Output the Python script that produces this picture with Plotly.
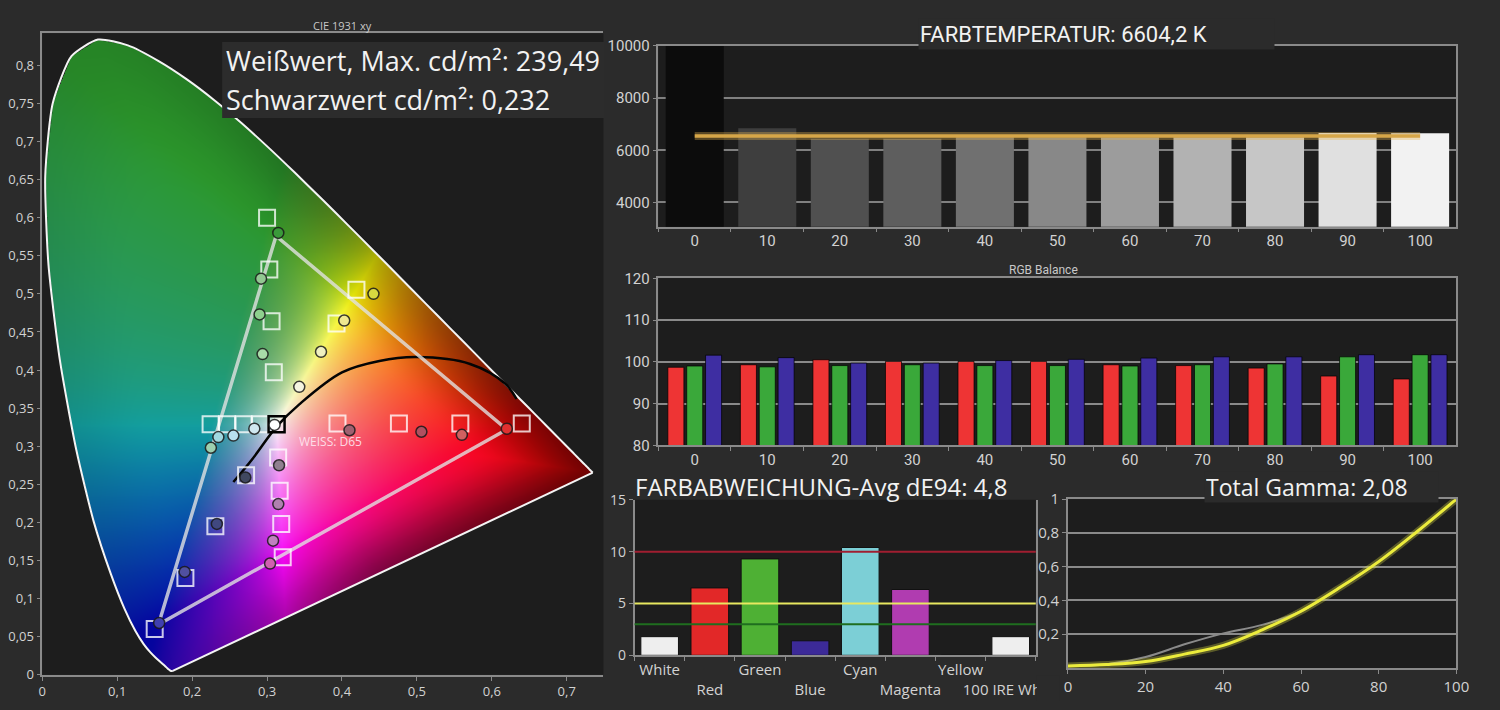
import numpy as np
import plotly.graph_objects as go
import zlib, struct, base64

# ---------------- data ----------------
# CIE 1931 2° spectral locus (380..700 nm)
locus_x = [0.1741, 0.1740, 0.1738, 0.1736, 0.1733, 0.1730, 0.1726, 0.1721, 0.1714, 0.1703,
           0.1689, 0.1669, 0.1644, 0.1611, 0.1566, 0.1510, 0.1440, 0.1355, 0.1241, 0.1096,
           0.0913, 0.0687, 0.0454, 0.0235, 0.0082, 0.0039, 0.0139, 0.0389, 0.0743, 0.1142,
           0.1547, 0.1929, 0.2296, 0.2658, 0.3016, 0.3373, 0.3731, 0.4087, 0.4441, 0.4788,
           0.5125, 0.5448, 0.5752, 0.6029, 0.6270, 0.6482, 0.6658, 0.6801, 0.6915, 0.7006,
           0.7079, 0.7140, 0.7190, 0.7230, 0.7260, 0.7283, 0.7300, 0.7311, 0.7320, 0.7327,
           0.7334, 0.7347]
locus_y = [0.0050, 0.0050, 0.0049, 0.0049, 0.0048, 0.0048, 0.0048, 0.0048, 0.0051, 0.0058,
           0.0069, 0.0086, 0.0109, 0.0138, 0.0177, 0.0227, 0.0297, 0.0399, 0.0578, 0.0868,
           0.1327, 0.2007, 0.2950, 0.4127, 0.5384, 0.6548, 0.7502, 0.8120, 0.8338, 0.8262,
           0.8059, 0.7816, 0.7543, 0.7243, 0.6923, 0.6589, 0.6245, 0.5896, 0.5547, 0.5202,
           0.4866, 0.4544, 0.4242, 0.3965, 0.3725, 0.3514, 0.3340, 0.3197, 0.3083, 0.2993,
           0.2920, 0.2859, 0.2809, 0.2770, 0.2740, 0.2717, 0.2700, 0.2689, 0.2680, 0.2673,
           0.2666, 0.2653]

planck_x = [0.255, 0.281, 0.313, 0.343, 0.400, 0.450, 0.500, 0.571, 0.618, 0.633]
planck_y = [0.253, 0.284, 0.326, 0.355, 0.397, 0.412, 0.417, 0.408, 0.382, 0.362]

gamut_x = [0.312, 0.620, 0.155, 0.312]
gamut_y = [0.576, 0.322, 0.066, 0.576]

target_x = [0.640, 0.558, 0.476, 0.394,
            0.2246, 0.2466, 0.2686, 0.2907,
            0.300, 0.303, 0.306, 0.309,
            0.150, 0.191, 0.231, 0.272,
            0.3209, 0.3189, 0.3168, 0.3148,
            0.4193, 0.3927]
target_y = [0.330, 0.330, 0.330, 0.330,
            0.329, 0.329, 0.329, 0.329,
            0.600, 0.532, 0.464, 0.397,
            0.060, 0.127, 0.195, 0.262,
            0.1542, 0.198, 0.2417, 0.2853,
            0.5053, 0.4612]

white_target_x = [0.3127]
white_target_y = [0.329]

meas_x = [0.315, 0.292, 0.290, 0.294,
          0.442, 0.403, 0.372, 0.343,
          0.225, 0.235, 0.255, 0.283,
          0.620, 0.560, 0.506, 0.410,
          0.156, 0.190, 0.233, 0.271,
          0.304, 0.308, 0.315, 0.316,
          0.310]
meas_y = [0.580, 0.520, 0.473, 0.421,
          0.500, 0.465, 0.424, 0.378,
          0.298, 0.312, 0.314, 0.323,
          0.323, 0.315, 0.319, 0.321,
          0.068, 0.135, 0.198, 0.259,
          0.146, 0.176, 0.224, 0.275,
          0.328]
meas_fill = ["#3a9a3a", "#92c892", "#8ed08e", "#a8dca8",
             "#d8d840", "#f0e890", "#f0f0c0", "#f4f4e0",
             "#9cd0b0", "#a0d8e0", "#b8e0ee", "#d0e8f0",
             "#e03030", "#d06060", "#b05060", "#a06070",
             "#4040b0", "#5050a0", "#404880", "#404860",
             "#d060b0", "#c080c0", "#b080b0", "#908090",
             "#ffffff"]

temp_cats = ["0", "10", "20", "30", "40", "50", "60", "70", "80", "90", "100"]
temp_values = [10000, 6850, 6440, 6440, 6500, 6500, 6500, 6500, 6500, 6660, 6650]
temp_target = [6550, 6550]
temp_ticks = [4000, 6000, 8000, 10000]

rgb_cats = temp_cats
red_vals = [98.7, 99.3, 100.5, 100.1, 100.1, 100.1, 99.3, 99.1, 98.5, 96.6, 95.9]
green_vals = [99.0, 98.8, 99.1, 99.3, 99.1, 99.1, 99.0, 99.3, 99.5, 101.2, 101.7]
blue_vals = [101.6, 101.0, 99.7, 99.7, 100.3, 100.6, 100.9, 101.2, 101.2, 101.7, 101.7]

de_cats = ["White", "Red", "Green", "Blue", "Cyan", "Magenta", "Yellow", "100 IRE White"]
de_vals = [1.8, 6.5, 9.3, 1.4, 10.4, 6.35, 0.0, 1.8]
de_limits = [10, 5, 3]

gamma_x = [0, 10, 20, 30, 40, 50, 60, 70, 80, 90, 100]
gamma_yellow = [0.012, 0.020, 0.038, 0.082, 0.134, 0.226, 0.336, 0.476, 0.630, 0.810, 1.0]
gamma_gray = [0.012, 0.022, 0.065, 0.140, 0.205, 0.255, 0.336, 0.476, 0.630, 0.810, 1.0]

cie_xticks = [0, 0.1, 0.2, 0.3, 0.4, 0.5, 0.6, 0.7]
cie_xtext = ["0", "0,1", "0,2", "0,3", "0,4", "0,5", "0,6", "0,7"]
cie_yticks = [0, 0.05, 0.1, 0.15, 0.2, 0.25, 0.3, 0.35, 0.4, 0.45, 0.5, 0.55, 0.6, 0.65, 0.7, 0.75, 0.8]
cie_ytext = ["0", "0,05", "0,1", "0,15", "0,2", "0,25", "0,3", "0,35", "0,4", "0,45", "0,5",
             "0,55", "0,6", "0,65", "0,7", "0,75", "0,8"]
gamma_yticks = [0.2, 0.4, 0.6, 0.8, 1.0]
gamma_ytext = ["0,2", "0,4", "0,6", "0,8", "1"]

# ---------------- layout constants ----------------
W, H = 1500, 710
PAGE = "#2b2b2b"
PLOT = "#1d1d1d"
LINE = "#8a8a8a"
TXT = "#d2d2d2"
FONT = "Open Sans, Noto Sans, sans-serif"
NARROW = "Roboto, Open Sans, sans-serif"

def fx(p):
    return p / W

def fy(p):
    return 1 - p / H

XMAX, YMAX = 0.749, 0.842
WX, WY = 0.3127, 0.3290

# ---------------- chromaticity background image ----------------
def point_in_poly(px, py, vx, vy):
    inside = np.zeros(px.shape, dtype=bool)
    n = len(vx)
    j = n - 1
    for i in range(n):
        xi, yi, xj, yj = vx[i], vy[i], vx[j], vy[j]
        if yi != yj:
            cond = ((yi > py) != (yj > py)) & (px < (xj - xi) * (py - yi) / (yj - yi) + xi)
            inside ^= cond
        j = i
    return inside

# boundary distance from the white point, per direction
ang_tab = np.radians(np.arange(0, 360.25, 0.25))
dxa, dya = np.cos(ang_tab)[:, None], np.sin(ang_tab)[:, None]
lx, ly = np.array(locus_x), np.array(locus_y)
p2x, p2y = np.roll(lx, -1), np.roll(ly, -1)
ex, ey = (p2x - lx)[None, :], (p2y - ly)[None, :]
wx_, wy_ = (lx - WX)[None, :], (ly - WY)[None, :]
den = dxa * ey - dya * ex
den = np.where(np.abs(den) < 1e-12, 1e-12, den)
tt = (wx_ * ey - wy_ * ex) / den
uu = (wx_ * dya - wy_ * dxa) / den
ok = (uu >= 0) & (uu <= 1) & (tt > 0)
rad_tab = np.where(ok, tt, np.inf).min(axis=1)

Wi, Hi = 572, 660
xs = (np.arange(Wi) + 0.5) / Wi * XMAX
ys = YMAX - (np.arange(Hi) + 0.5) / Hi * YMAX
XX, YY = np.meshgrid(xs, ys)
ins = point_in_poly(XX, YY, locus_x, locus_y)
yy = np.maximum(YY, 1e-3)
Xc = XX / yy
Zc = (1 - XX - yy) / yy
M = np.array([[3.2406, -1.5372, -0.4986], [-0.9689, 1.8758, 0.0415], [0.0557, -0.2040, 1.0570]])
lin = np.stack([M[k, 0] * Xc + M[k, 1] + M[k, 2] * Zc for k in range(3)], axis=-1)
lin = np.clip(lin, 0, None)
lin = lin / np.maximum(lin.max(axis=-1, keepdims=True), 1e-9)
lin = np.power(lin, 1.7)
R_, G_, B_ = lin[..., 0], lin[..., 1], lin[..., 2]
gdom = np.clip(G_ - np.maximum(R_, B_), 0, 1)
cdom = np.clip(np.minimum(G_, B_) - R_, 0, 1)
bdom = np.clip(B_ - np.maximum(R_, G_), 0, 1)
fdom = 1 - 0.55 * gdom - 0.42 * cdom - 0.3 * bdom
lift = 0.16 * gdom + 0.06 * cdom
c = np.where(lin <= 0.0031308, 12.92 * lin, 1.055 * np.power(lin, 1 / 2.4) - 0.055)
c = c * 0.94 + 0.03
ddx, ddy = XX - WX, YY - WY
theta = np.mod(np.degrees(np.arctan2(ddy, ddx)), 360)
sat = np.hypot(ddx, ddy) / np.interp(np.radians(theta), ang_tab, rad_tab)
k_ang = [0, 8, 30, 49, 78, 100, 130, 250, 267, 305, 336, 351, 360]
k_val = [0.55, 0.55, 0.45, 0.35, 0.3, 0.2, 0.1, 0.1, 0.3, 0.55, 0.6, 0.62, 0.55]
kk = np.interp(theta, k_ang, k_val)
tq = np.clip((sat - 0.6) / 0.5, 0, 1)
fedge = 1 - kk * tq * tq * (3 - 2 * tq)
val = c * (fdom * fedge)[..., None] + (lift * fedge)[..., None]
rgb = np.clip(val * 255, 0, 255).astype(np.uint8)
alpha = (ins * 255).astype(np.uint8)[..., None]
rgba = np.concatenate([rgb, alpha], axis=-1)

def png_uri(arr):
    h, w, _ = arr.shape
    raw = b"".join(b"\x00" + arr[i].tobytes() for i in range(h))
    def chunk(tag, data):
        return struct.pack(">I", len(data)) + tag + data + struct.pack(">I", zlib.crc32(tag + data) & 0xffffffff)
    png = (b"\x89PNG\r\n\x1a\n" + chunk(b"IHDR", struct.pack(">IIBBBBB", w, h, 8, 6, 0, 0, 0))
           + chunk(b"IDAT", zlib.compress(raw, 9)) + chunk(b"IEND", b""))
    return "data:image/png;base64," + base64.b64encode(png).decode()

fig = go.Figure()

# ---------------- CIE panel ----------------
fig.add_trace(go.Scatter(x=locus_x, y=locus_y, mode="lines",
                         line=dict(color="#f4f4f4", width=2, shape="spline", smoothing=0.6),
                         xaxis="x", yaxis="y", hoverinfo="skip"))
fig.add_trace(go.Scatter(x=[locus_x[-1], locus_x[0]], y=[locus_y[-1], locus_y[0]], mode="lines",
                         line=dict(color="#f4f4f4", width=2), xaxis="x", yaxis="y", hoverinfo="skip"))
fig.add_trace(go.Scatter(x=planck_x, y=planck_y, mode="lines", line=dict(color="#050505", width=2.5, shape="spline"),
                         xaxis="x", yaxis="y", hoverinfo="skip"))
fig.add_trace(go.Scatter(x=gamut_x, y=gamut_y, mode="lines", line=dict(color="rgba(225,225,225,0.8)", width=3.5),
                         xaxis="x", yaxis="y", hoverinfo="skip"))
fig.add_trace(go.Scatter(x=target_x, y=target_y, mode="markers",
                         marker=dict(symbol="square-open", size=16, color="rgba(255,255,255,0.78)",
                                     line=dict(width=2, color="rgba(255,255,255,0.78)")),
                         xaxis="x", yaxis="y", hoverinfo="skip"))
fig.add_trace(go.Scatter(x=white_target_x, y=white_target_y, mode="markers",
                         marker=dict(symbol="square-open", size=16, color="#000000",
                                     line=dict(width=2.5, color="#000000")),
                         xaxis="x", yaxis="y", hoverinfo="skip"))
fig.add_trace(go.Scatter(x=meas_x, y=meas_y, mode="markers",
                         marker=dict(symbol="circle", size=11, color=meas_fill,
                                     line=dict(width=1.5, color="rgba(25,25,25,0.85)")),
                         xaxis="x", yaxis="y", hoverinfo="skip"))

# ---------------- colour temperature panel ----------------
temp_colors = ["#0c0c0c", "#3e3e3e", "#505050", "#5e5e5e", "#707070", "#888888",
               "#9c9c9c", "#b2b2b2", "#c6c6c6", "#e0e0e0", "#f2f2f2"]
fig.add_trace(go.Bar(x=temp_cats, y=temp_values, width=0.8, marker=dict(color=temp_colors, line=dict(width=0)),
                     xaxis="x2", yaxis="y2", hoverinfo="skip"))
fig.add_trace(go.Scatter(x=[temp_cats[0], temp_cats[-1]], y=temp_target, mode="lines",
                         line=dict(color="rgba(230,180,80,0.35)", width=8), xaxis="x2", yaxis="y2", hoverinfo="skip"))
fig.add_trace(go.Scatter(x=[temp_cats[0], temp_cats[-1]], y=temp_target, mode="lines",
                         line=dict(color="#d6a648", width=3.5), xaxis="x2", yaxis="y2", hoverinfo="skip"))

# ---------------- RGB balance panel ----------------
for vals, col in ((red_vals, "#ee3434"), (green_vals, "#3aa83a"), (blue_vals, "#3e2ea2")):
    fig.add_trace(go.Bar(x=rgb_cats, y=vals, marker=dict(color=col, line=dict(width=1, color="rgba(0,0,0,0.7)")),
                         xaxis="x3", yaxis="y3", hoverinfo="skip"))

# ---------------- colour deviation panel ----------------
de_colors = ["#eeeeee", "#e22828", "#4eb034", "#3c2a98", "#7ccfd6", "#b03cb0", "#e0e040", "#eeeeee"]
fig.add_trace(go.Bar(x=de_cats, y=de_vals, width=0.75, marker=dict(color=de_colors, line=dict(width=1, color="#111111")),
                     xaxis="x4", yaxis="y4", hoverinfo="skip"))

# ---------------- gamma panel ----------------
fig.add_trace(go.Scatter(x=gamma_x, y=gamma_gray, mode="lines", line=dict(color="#8a8a8a", width=2, shape="spline"),
                         xaxis="x5", yaxis="y5", hoverinfo="skip"))
fig.add_trace(go.Scatter(x=gamma_x, y=gamma_yellow, mode="lines",
                         line=dict(color="rgba(235,235,70,0.3)", width=7, shape="spline"),
                         xaxis="x5", yaxis="y5", hoverinfo="skip"))
fig.add_trace(go.Scatter(x=gamma_x, y=gamma_yellow, mode="lines", line=dict(color="#ecec3c", width=3, shape="spline"),
                         xaxis="x5", yaxis="y5", hoverinfo="skip"))

tickfont = dict(family=FONT, size=13, color=TXT)
narrowfont = dict(family=NARROW, size=15, color=TXT)
base_ax = dict(showline=True, linecolor=LINE, linewidth=1.5, ticks="outside", ticklen=4, tickcolor=LINE,
               zeroline=False, showgrid=False, fixedrange=True, tickangle=0)

layout = dict(
    width=W, height=H, margin=dict(l=0, r=0, t=0, b=0), autosize=False,
    paper_bgcolor=PAGE, plot_bgcolor=PLOT, showlegend=False,
    barmode="group", bargap=0.22, bargroupgap=0.15,
    xaxis=dict(base_ax, domain=[fx(39), fx(610)], range=[0, XMAX], tickvals=cie_xticks, ticktext=cie_xtext,
               tickfont=tickfont, mirror=True, anchor="y"),
    yaxis=dict(base_ax, domain=[fy(683), fy(23)], range=[0, YMAX], tickvals=cie_yticks, ticktext=cie_ytext,
               tickfont=tickfont, anchor="x"),
    xaxis2=dict(base_ax, domain=[fx(666), fx(1478)], type="category", tickson="boundaries", tickfont=narrowfont,
                mirror=True, anchor="y2"),
    yaxis2=dict(base_ax, domain=[fy(222), fy(36)], range=[3070, 10000], tickvals=temp_ticks,
                ticktext=[str(v) for v in temp_ticks], tickfont=narrowfont, mirror=True,
                showgrid=True, gridcolor="#808080", gridwidth=1.5, anchor="x2"),
    xaxis3=dict(base_ax, domain=[fx(666), fx(1478)], type="category", tickson="boundaries", tickfont=narrowfont,
                mirror=True, anchor="y3"),
    yaxis3=dict(base_ax, domain=[fy(447), fy(275)], range=[80, 120], tickvals=[80, 90, 100, 110, 120],
                tickfont=narrowfont, mirror=True, showgrid=True, gridcolor="#8a8a8a", gridwidth=1.5, anchor="x3"),
    xaxis4=dict(base_ax, domain=[fx(641.7), fx(1050)], type="category", tickson="boundaries",
                tickvals=de_cats, ticktext=[c if i % 2 == 0 else "\u00a0<br>" + c for i, c in enumerate(de_cats)],
                tickfont=dict(family=FONT, size=15, color=TXT), anchor="y4"),
    yaxis4=dict(base_ax, domain=[fy(663), fy(503)], range=[0, 15], tickvals=[0, 5, 10, 15],
                tickfont=dict(family=FONT, size=14, color=TXT), mirror=True, anchor="x4"),
    xaxis5=dict(base_ax, domain=[fx(1082.7), fx(1478)], range=[0, 100], tickvals=[0, 20, 40, 60, 80, 100],
                tickfont=dict(family=FONT, size=15, color=TXT), mirror=True, anchor="y5"),
    yaxis5=dict(base_ax, domain=[fy(676), fy(502.3)], range=[0, 1], tickvals=gamma_yticks, ticktext=gamma_ytext,
                tickfont=dict(family=FONT, size=15, color=TXT), mirror=True, showgrid=True,
                gridcolor="#8a8a8a", gridwidth=1.5, anchor="x5"),
    images=[dict(source=png_uri(rgba), xref="x", yref="y", x=0, y=YMAX, sizex=XMAX, sizey=YMAX,
                 sizing="stretch", xanchor="left", yanchor="top", layer="below")],
)
fig.update_layout(**layout)

shapes = [
    dict(type="rect", xref="paper", yref="paper", x0=fx(222), x1=fx(611), y0=fy(110), y1=fy(32),
         fillcolor="#2c2c2c", line=dict(width=0), layer="above"),
    dict(type="rect", xref="paper", yref="paper", x0=fx(1051), x1=fx(1074), y0=fy(710), y1=fy(684),
         fillcolor=PAGE, line=dict(width=0), layer="above"),
]
limit_colors = ["#a01e30", "#e8e860", "#1f6e1f"]
for v, col in zip(de_limits, limit_colors):
    shapes.append(dict(type="line", xref="x4 domain", yref="y4", x0=0, x1=1, y0=v, y1=v,
                       line=dict(color=col, width=2), layer="above"))
fig.update_layout(shapes=shapes)

ann = [
    dict(text="CIE 1931 xy", x=fx(344), y=fy(15), font=dict(family=FONT, size=11, color="#c8c8c8")),
    dict(text="Weißwert, Max. cd/m²: 239,49", x=fx(224), y=fy(51), xanchor="left",
         font=dict(family=FONT, size=27, color="#f2f2f2")),
    dict(text="Schwarzwert cd/m²: 0,232", x=fx(224), y=fy(91), xanchor="left",
         font=dict(family=FONT, size=27, color="#f2f2f2")),
    dict(text="WEISS: D65", x=0.385, y=0.306, xref="x", yref="y",
         font=dict(family=FONT, size=12, color="rgba(255,232,242,0.9)")),
    dict(text="FARBTEMPERATUR: 6604,2 K", x=fx(930), y=fy(24), xanchor="left", width=353, height=28,
         align="left", bgcolor=PAGE, font=dict(family=NARROW, size=22, color="#f2f2f2")),
    dict(text="RGB Balance", x=fx(1058), y=fy(266), font=dict(family=NARROW, size=12, color="#c8c8c8")),
    dict(text="FARBABWEICHUNG-Avg dE94: 4,8", x=fx(640), y=fy(489), xanchor="left",
         font=dict(family=FONT, size=24, color="#f2f2f2")),
    dict(text="Total Gamma: 2,08", x=fx(1221), y=fy(490), xanchor="left", width=231, height=28, align="left",
         bgcolor=PAGE, font=dict(family=FONT, size=23, color="#f2f2f2")),
]
for a in ann:
    a.setdefault("xref", "paper")
    a.setdefault("yref", "paper")
    a.setdefault("xanchor", "center")
    a["yanchor"] = "middle"
    a["showarrow"] = False
fig.update_layout(annotations=ann)

css = ("var h=document.documentElement,b=document.body;"
       "h.style.margin='0';h.style.padding='0';h.style.overflow='hidden';h.style.background='#2b2b2b';"
       "b.style.margin='0';b.style.padding='0';b.style.overflow='hidden';b.style.background='#2b2b2b';")
fig.write_html("out.html", config={"displayModeBar": False, "responsive": False}, post_script=css)
